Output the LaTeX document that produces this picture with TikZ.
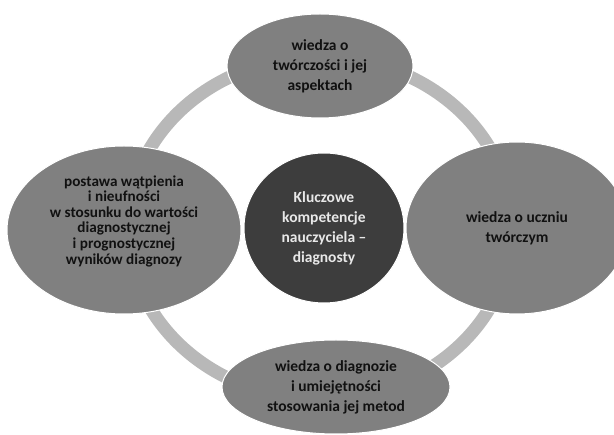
\documentclass[tikz,border=0pt]{standalone}
\usepackage{fontspec}
\setmainfont{Carlito}
\usetikzlibrary{shapes.geometric}
\definecolor{ringgray}{HTML}{B8B8B8}
\definecolor{outergray}{HTML}{808080}
\definecolor{centergray}{HTML}{3D3D3D}
\definecolor{lighttext}{HTML}{E8E8E8}
\definecolor{darktext}{HTML}{111111}
\tikzset{
  outerell/.style={ellipse, fill=outergray, draw=white, line width=1pt, inner sep=0pt,
    align=center, text=darktext, font=\bfseries\fontsize{15.5}{20}\selectfont},
  centerell/.style={ellipse, fill=centergray, draw=white, line width=1pt, inner sep=0pt,
    align=center, text=lighttext, font=\bfseries\fontsize{15.5}{20}\selectfont},
  ring/.style={draw=ringgray, line width=13pt},
  txt/.style={align=center, text=darktext, inner sep=0pt}
}
\begin{document}
\begin{tikzpicture}[x=1pt,y=-1pt]
\useasboundingbox (0,0) rectangle (614,435);
\begin{scope}
\clip (0,0) rectangle (614,435);
\coordinate (ringc) at (320,228);
\draw[ring] (ringc) ellipse [x radius=192, y radius=171];
\node[outerell, minimum width=186, minimum height=104] (top) at (320,66)
  {wiedza o\\twórczości i jej\\aspektach};
\node[outerell, minimum width=234, minimum height=168] (left) at (124,230) {};
\node[txt, font=\bfseries\fontsize{15.2}{15.6}\selectfont] (lefttext) at (124,221)
  {postawa wątpienia\\i nieufności\\w stosunku do wartości\\diagnostycznej\\i prognostycznej\\wyników diagnozy};
\node[outerell, minimum width=222, minimum height=172] (right) at (517,228)
  {wiedza o uczniu\\twórczym};
\node[outerell, minimum width=228, minimum height=94] (bottom) at (336,387)
  {wiedza o diagnozie\\i umiejętności\\stosowania jej metod};
\node[centerell, minimum width=160, minimum height=150] (center) at (324,228)
  {Kluczowe\\kompetencje\\nauczyciela –\\diagnosty};
\end{scope}
\end{tikzpicture}
\end{document}
